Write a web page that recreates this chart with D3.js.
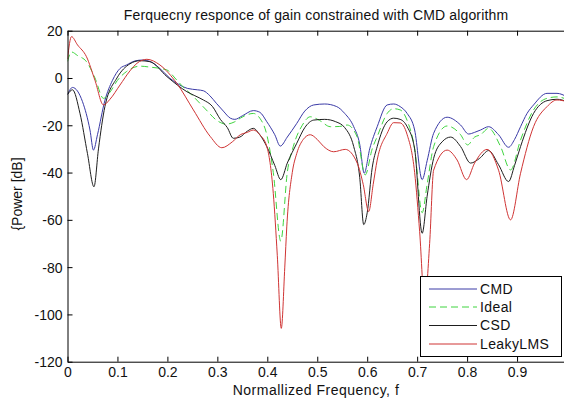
<!DOCTYPE html>
<html><head><meta charset="utf-8">
<script src="https://cdn.jsdelivr.net/npm/d3@7"></script>
<style>body{margin:0;background:#fff}svg{display:block}text{font-family:"Liberation Sans",Arial,sans-serif}</style>
</head><body>
<svg id="c" width="564" height="401"></svg>
<script>
const title = "Ferquecny responce of gain constrained with CMD algorithm";
const xLabel = "Normallized Frequency, f";
const yLabel = "{Power [dB]";
const xTicks = [0,0.1,0.2,0.3,0.4,0.5,0.6,0.7,0.8,0.9];
const xTickLabels = ["0","0.1","0.2","0.3","0.4","0.5","0.6","0.7","0.8","0.9"];
const yTicks = [20,0,-20,-40,-60,-80,-100,-120];
const yTickLabels = ["20","0","-20","-40","-60","-80","-100","-120"];
const seriesNames = ["CMD","Ideal","CSD","LeakyLMS"];

const cmdF = [0,.01,.03,.045,.052,.06,.075,.09,.105,.118,.135,.15,.165,.185,.205,.225,.24,.26,.272,.285,.298,.312,.326,.335,.35,.372,.385,.399,.415,.426,.44,.459,.475,.493,.515,.539,.555,.573,.585,.594,.605,.62,.64,.653,.666,.68,.695,.71,.72,.733,.76,.787,.803,.815,.827,.843,.863,.883,.895,.907,.92,.933,.96,.98,1.0];
const cmdDb = [-7,-4,-10,-22,-30.5,-24,-9.4,-1,4,5.5,7.2,7.6,7,4,-0.1,-3,-4.4,-5,-5.4,-7.5,-10.7,-14,-17,-17.5,-16,-13.8,-14.5,-18.5,-24,-28.8,-25,-19.2,-14,-11.4,-11,-12.1,-15,-20.6,-28,-40.3,-30,-20.6,-11.4,-11,-12.1,-15,-22,-43,-35,-23.4,-16.6,-19.9,-23.7,-23,-22,-20.6,-24,-29.3,-26,-20.6,-15,-11.4,-6.5,-6.5,-8];

const idealF = [0,.008,.02,.038,.055,.072,.085,.1,.118,.145,.165,.199,.215,.231,.248,.265,.28,.298,.318,.335,.346,.36,.372,.385,.399,.412,.427,.44,.452,.47,.486,.505,.526,.545,.56,.58,.596,.61,.62,.64,.653,.666,.68,.695,.71,.72,.733,.76,.787,.801,.815,.827,.843,.867,.887,.907,.933,.96,.98,1.0];
const idealDb = [7,11,9.5,6.9,0,-8.6,-6,-1,2.7,5,4.6,3.4,0,-3.7,-7,-10.7,-14,-17.8,-19.5,-18.5,-17,-15.5,-15,-17,-24,-40,-69,-40,-29,-20,-16.4,-18,-20.6,-20.5,-19.9,-25,-41,-30,-24.8,-15,-13,-13.5,-18,-30,-57,-45,-29,-20.3,-24,-28.3,-25,-24,-21.3,-29,-38.9,-26.2,-13.5,-8.6,-8,-9];

const csdF = [0,.01,.025,.04,.053,.062,.075,.099,.125,.145,.165,.199,.22,.239,.255,.272,.29,.306,.32,.332,.345,.36,.372,.385,.399,.415,.427,.44,.459,.475,.493,.515,.537,.555,.573,.585,.593,.6,.61,.62,.64,.653,.666,.68,.695,.71,.72,.733,.75,.767,.787,.807,.825,.843,.863,.883,.895,.907,.933,.96,.98,1.0];
const csdDb = [-7,-5,-15,-32,-46,-30,-12,0,6,7.3,6.9,0.6,-3,-5.8,-7.5,-9.3,-12,-17.5,-21,-25.5,-25,-22.5,-21.3,-24,-29,-37,-43,-36,-27.6,-21,-17.8,-17.5,-18.5,-21,-29,-42,-62,-57,-38,-29,-18.5,-17,-17.5,-20.6,-30,-65.7,-50,-34,-27,-25,-29,-36,-34,-30.7,-36.7,-43.8,-37,-29,-15,-9.6,-9,-10];

const lmsF = [0,.008,.02,.038,.055,.072,.085,.105,.125,.139,.159,.185,.219,.252,.286,.309,.33,.346,.36,.372,.385,.399,.412,.42,.428,.435,.439,.45,.459,.472,.486,.5,.513,.533,.556,.58,.592,.603,.612,.62,.64,.653,.666,.68,.695,.705,.715,.725,.733,.76,.78,.799,.815,.84,.863,.887,.907,.933,.96,.98,1.0];
const lmsDb = [8,17.5,14,9,-1,-11.4,-9,-3,3,6.2,7.9,5.5,-2.3,-13.5,-24.8,-29.5,-27,-24,-23,-22,-24,-29,-48.8,-75,-105.9,-80,-63,-40,-31.9,-26,-24,-26,-29,-31.2,-30.2,-36,-45,-56.5,-45,-34.7,-23.4,-18.9,-19,-24,-40,-65,-95,-70,-39,-30.5,-34.7,-43,-36,-30.2,-39,-60,-40.3,-20.6,-12.1,-9.3,-10];

const series = [
  {name: seriesNames[0], f: cmdF, v: cmdDb, color: "#3a3aa6", dash: null},
  {name: seriesNames[1], f: idealF, v: idealDb, color: "#3fd43f", dash: "7,4"},
  {name: seriesNames[2], f: csdF, v: csdDb, color: "#1e1e1e", dash: null},
  {name: seriesNames[3], f: lmsF, v: lmsDb, color: "#cf3434", dash: null}
];

const FS = "14px";
const svg = d3.select("#c");
const L = 67.5, R = 567, T = 30.7, B = 361.7;
const x = d3.scaleLinear().domain([0,1]).range([L,R]);
const y = d3.scaleLinear().domain([-120,20]).range([B,T]);

svg.append("defs").append("clipPath").attr("id","clip")
  .append("rect").attr("x",L).attr("y",T).attr("width",R-L).attr("height",B-T);

const line = d3.line().x(d=>x(d[0])).y(d=>y(d[1])).curve(d3.curveMonotoneX);
const g = svg.append("g").attr("clip-path","url(#clip)");
series.forEach(s=>{
  g.append("path").datum(s.f.map((f,i)=>[f,s.v[i]]))
   .attr("d",line).attr("fill","none").attr("stroke",s.color)
   .attr("stroke-width",1).attr("stroke-dasharray",s.dash);
});

// axes (MATLAB style, inward ticks)
const xAxB = d3.axisBottom(x).tickValues(xTicks).tickSizeInner(-5).tickSizeOuter(0).tickPadding(5.7)
  .tickFormat((d,i)=>xTickLabels[i]);
const xAxT = d3.axisTop(x).tickValues(xTicks).tickSizeInner(-5).tickSizeOuter(0).tickFormat("");
const yAxL = d3.axisLeft(y).tickValues(yTicks).tickSizeInner(-5).tickSizeOuter(0).tickPadding(5)
  .tickFormat((d,i)=>yTickLabels[i]);
const gb = svg.append("g").attr("transform",`translate(0,${B})`).call(xAxB);
const gt = svg.append("g").attr("transform",`translate(0,${T})`).call(xAxT);
const gl = svg.append("g").attr("transform",`translate(${L},0)`).call(yAxL);
[gb,gt,gl].forEach(a=>{
  a.select(".domain").attr("stroke","#000");
  a.selectAll(".tick line").attr("stroke","#000");
  a.selectAll("text").attr("font-size",FS).attr("fill","#111").attr("font-family","Liberation Sans, Arial, sans-serif");
});
gb.selectAll("text").attr("dy","0.71em");
gl.selectAll("text").attr("dy","0.35em");

svg.append("text").attr("x",316).attr("y",20).attr("text-anchor","middle")
  .attr("font-size",FS).attr("letter-spacing","0.15px").attr("fill","#111").text(title);
svg.append("text").attr("x",316).attr("y",395).attr("text-anchor","middle")
  .attr("font-size",FS).attr("letter-spacing","0.5px").attr("fill","#111").text(xLabel);
svg.append("text").attr("transform","translate(22,194) rotate(-90)").attr("text-anchor","middle")
  .attr("font-size",FS).attr("fill","#111").text(yLabel);

// legend
const lg = svg.append("g");
lg.append("rect").attr("x",420.5).attr("y",276.5).attr("width",141).attr("height",80)
  .attr("fill","#fff").attr("stroke","#000").attr("stroke-width",1);
const ly = [289,307,325.5,344];
series.forEach((s,i)=>{
  lg.append("line").attr("x1",429).attr("x2",477).attr("y1",ly[i]).attr("y2",ly[i])
    .attr("stroke",s.color).attr("stroke-width",1).attr("stroke-dasharray",s.dash);
  lg.append("text").attr("x",480).attr("y",ly[i]).attr("dy","0.35em")
    .attr("font-size",FS).attr("letter-spacing","0.4px").attr("fill","#111").text(s.name);
});
</script>
</body></html>
